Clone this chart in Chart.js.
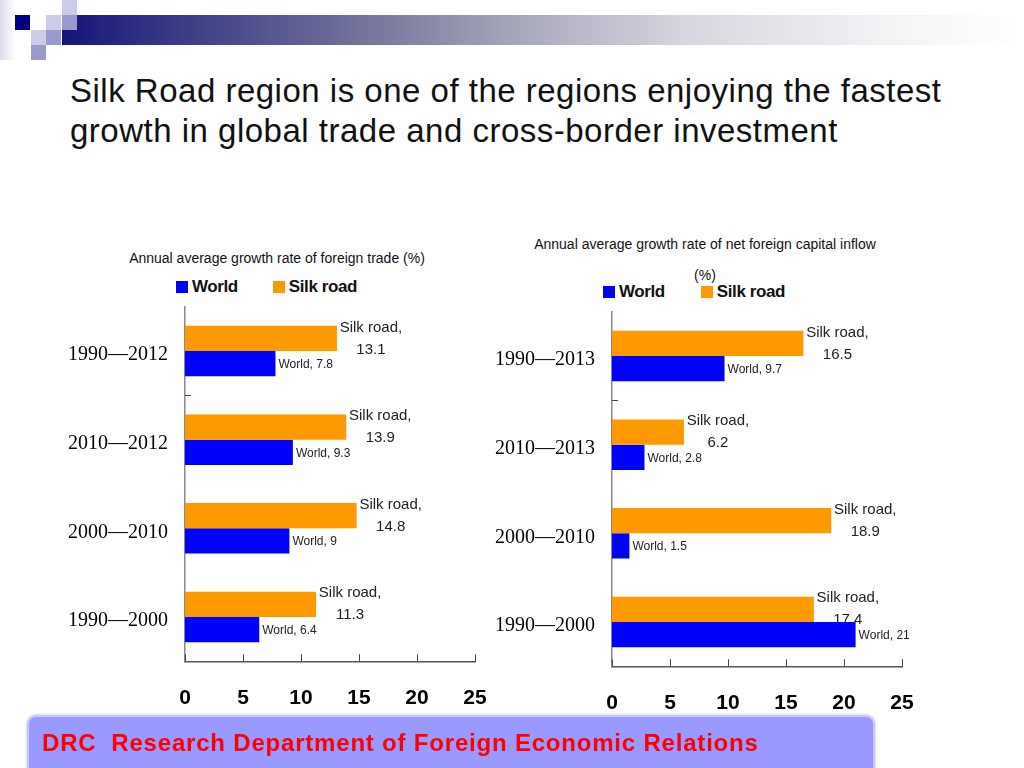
<!DOCTYPE html>
<html>
<head>
<meta charset="utf-8">
<script src="https://cdn.jsdelivr.net/npm/chart.js@4.4.0/dist/chart.umd.min.js"></script>
<style>
  body { margin: 0; width: 1024px; height: 768px; position: relative; overflow: hidden; background: #fff; font-family: "Liberation Sans", Arial, sans-serif; }
  .abs { position: absolute; }
  .sq { position: absolute; width: 15px; height: 15px; }
  .band { left: 62px; top: 15px; width: 962px; height: 30px;
    background: linear-gradient(to right, #15157c 0%, #3a3a86 12%, #6f6f9a 30%, #a9a9bd 48%, #d6d6e0 65%, #f2f2f5 85%, #ffffff 100%); }
  h1 { position: absolute; left: 70px; top: 71px; margin: 0; font-weight: normal; font-size: 33px; line-height: 40px; letter-spacing: 0.5px; color: #111; white-space: nowrap; }
  .ctitle { font-size: 14px; color: #111; white-space: nowrap; transform: translate(-50%, -50%); }
  .legend { font-size: 17px; font-weight: bold; letter-spacing: -0.4px; color: #111; white-space: nowrap; transform: translateY(-50%); }
  .box { display: inline-block; width: 12px; height: 12px; vertical-align: -1px; margin-right: 4px; }
  canvas { position: absolute; }
  .footer { left: 27px; top: 715px; width: 844px; height: 60px; background: #9999ff; border: 2px solid #c8c8ff; border-radius: 9px; box-shadow: 0 0 3px #bbb; }
  .footer span { position: absolute; left: 13px; top: 12px; font-size: 24px; font-weight: bold; color: #ff0000; letter-spacing: 0.8px; white-space: nowrap; }
</style>
</head>
<body>
<!-- header decoration -->
<div class="abs" style="left:0;top:0;width:15px;height:60px;background:linear-gradient(to right,#dcdcef,#fff)"></div>
<div class="abs band"></div>
<div class="sq" style="left:15px;top:15px;background:#000080"></div>
<div class="sq" style="left:62px;top:0;background:#ccccea"></div>
<div class="sq" style="left:46px;top:15px;background:#ccccea"></div>
<div class="sq" style="left:62px;top:15px;background:#9999cc"></div>
<div class="sq" style="left:31px;top:30px;background:#ccccea"></div>
<div class="sq" style="left:46px;top:30px;background:#9999cc"></div>
<div class="sq" style="left:31px;top:45px;background:#9999cc"></div>

<h1>Silk Road region is one of the regions enjoying the fastest<br>growth in global trade and cross-border investment</h1>

<div class="abs ctitle" style="left:277px;top:258px">Annual average growth rate of foreign trade (%)</div>
<div class="abs legend" style="left:176px;top:287px"><span class="box" style="background:#0000ff"></span>World<span class="box" style="background:#ff9900;margin-left:35px"></span>Silk road</div>

<div class="abs ctitle" style="left:705px;top:244px">Annual average growth rate of net foreign capital inflow</div>
<div class="abs ctitle" style="left:705px;top:275px">(%)</div>
<div class="abs legend" style="left:603px;top:292px"><span class="box" style="background:#0000ff"></span>World<span class="box" style="background:#ff9900;margin-left:36px"></span>Silk road</div>

<canvas id="tradeChart" width="430" height="430" style="left:60px;top:290px"></canvas>
<canvas id="capitalChart" width="430" height="430" style="left:487px;top:295px"></canvas>

<div class="abs footer"><span>DRC&nbsp; Research Department of Foreign Economic Relations</span></div>

<script>
// Foreign trade growth (%)
const tradePeriods = ['1990—2012', '2010—2012', '2000—2010', '1990—2000'];
const tradeWorld = [7.8, 9.3, 9, 6.4];
const tradeSilk = [13.1, 13.9, 14.8, 11.3];

// Net foreign capital inflow growth (%)
const capitalPeriods = ['1990—2013', '2010—2013', '2000—2010', '1990—2000'];
const capitalWorld = [9.7, 2.8, 1.5, 21];
const capitalSilk = [16.5, 6.2, 18.9, 17.4];

const xTicks = [0, 5, 10, 15, 20, 25];

const SILK_COLOR = '#ff9900';
const WORLD_COLOR = '#0000ff';

// silk road labels go under the world bars (the 17.4 one gets covered, like the slide)
const barLabels = {
    id: 'barLabels',
    beforeDatasetsDraw(chart) {
        const ctx = chart.ctx;
        const values = chart.data.datasets[0].data;
        ctx.save();
        ctx.font = '15px "Liberation Sans", Arial, sans-serif';
        ctx.fillStyle = '#222';
        ctx.textAlign = 'center';
        ctx.textBaseline = 'middle';
        chart.getDatasetMeta(0).data.forEach((bar, i) => {
            ctx.fillText('Silk road,', bar.x + 34, bar.y - 11);
            ctx.fillText(String(values[i]), bar.x + 34, bar.y + 11);
        });
        ctx.restore();
    },
    afterDatasetsDraw(chart) {
        const ctx = chart.ctx;
        const values = chart.data.datasets[1].data;
        ctx.save();
        ctx.font = '12px "Liberation Sans", Arial, sans-serif';
        ctx.fillStyle = '#222';
        ctx.textAlign = 'left';
        ctx.textBaseline = 'middle';
        chart.getDatasetMeta(1).data.forEach((bar, i) => {
            ctx.fillText('World, ' + values[i], bar.x + 3, bar.y + 1);
        });
        ctx.restore();
    }
};

// small tick marks pointing into the plot
const innerTicks = {
    id: 'innerTicks',
    afterDraw(chart) {
        const { ctx, chartArea, scales } = chart;
        ctx.save();
        ctx.strokeStyle = '#444';
        ctx.lineWidth = 1;
        ctx.beginPath();
        xTicks.forEach(v => {
            const x = Math.round(scales.x.getPixelForValue(v)) + 0.5;
            ctx.moveTo(x, chartArea.bottom);
            ctx.lineTo(x, chartArea.bottom - 7);
        });
        const yb = Math.round((scales.y.getPixelForValue(0) + scales.y.getPixelForValue(1)) / 2) + 0.5;
        ctx.moveTo(chartArea.left, yb);
        ctx.lineTo(chartArea.left + 6, yb);
        ctx.stroke();
        ctx.restore();
    }
};

function makeChart(id, periods, world, silk) {
    const ctx = document.getElementById(id).getContext('2d');
    return new Chart(ctx, {
        type: 'bar',
        data: {
            labels: periods,
            datasets: [
                { label: 'Silk road', data: silk, backgroundColor: SILK_COLOR, borderWidth: 0 },
                { label: 'World', data: world, backgroundColor: WORLD_COLOR, borderWidth: 0 }
            ]
        },
        options: {
            indexAxis: 'y',
            responsive: false,
            animation: false,
            categoryPercentage: 0.57,
            barPercentage: 1,
            layout: { padding: { top: 16.7, right: 15, bottom: 8.7, left: 0 } },
            plugins: { legend: { display: false }, tooltip: { enabled: false } },
            scales: {
                x: {
                    min: 0, max: 25,
                    afterBuildTicks: (scale) => { scale.ticks = xTicks.map(v => ({ value: v })); },
                    afterFit: (scale) => {
                        scale.height = 50;
                        scale.paddingLeft = 0;
                        scale.paddingRight = 0;
                    },
                    grid: { display: false },
                    border: { display: true, color: '#555', width: 1.5 },
                    ticks: { padding: 16, color: '#000', font: { family: '"Liberation Sans", Arial, sans-serif', size: 21, weight: 'bold' } }
                },
                y: {
                    afterFit: (scale) => {
                        scale.width = 125;
                        scale.paddingTop = 0;
                        scale.paddingBottom = 0;
                    },
                    grid: { display: false },
                    border: { display: true, color: '#888', width: 1.5 },
                    ticks: { padding: 9, labelOffset: 4, color: '#000', font: { family: '"Liberation Serif", "Times New Roman", serif', size: 20 } }
                }
            }
        },
        plugins: [barLabels, innerTicks]
    });
}

makeChart('tradeChart', tradePeriods, tradeWorld, tradeSilk);
makeChart('capitalChart', capitalPeriods, capitalWorld, capitalSilk);
</script>
</body>
</html>
